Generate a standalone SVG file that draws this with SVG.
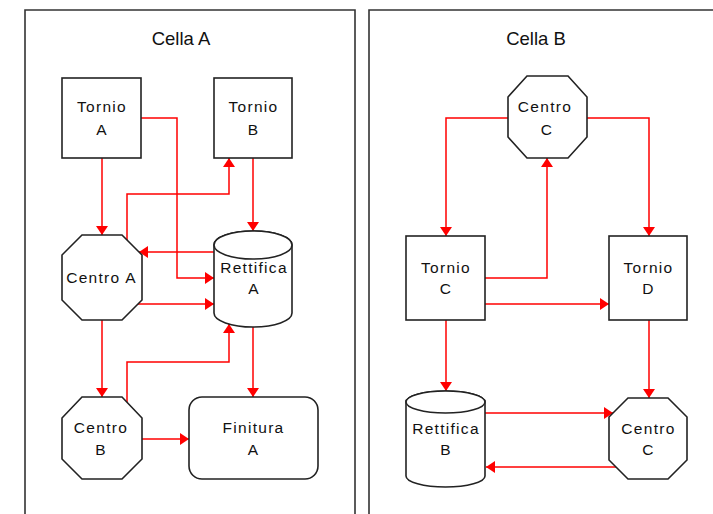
<svg xmlns="http://www.w3.org/2000/svg" width="713" height="514" viewBox="0 0 713 514">
  <defs>
    <style>
      .frame { fill: none; stroke: #333; stroke-width: 1.6; }
      .title { font-family: "Liberation Sans", Arial, sans-serif; font-size: 18.5px; fill: #111; text-anchor: middle; }
      .shape { fill: #fff; stroke: #222; stroke-width: 1.6; }
      .lbl { font-family: "Liberation Sans", Arial, sans-serif; font-size: 15.5px; letter-spacing: 1.3px; fill: #111; text-anchor: middle; }
      .edge { fill: none; stroke: #ff0000; stroke-width: 1.5; marker-end: url(#arrow); }
    </style>
    <marker id="arrow" markerUnits="userSpaceOnUse" markerWidth="10" markerHeight="12" refX="9" refY="6" orient="auto">
      <path d="M0,0 L9,6 L0,12 z" fill="#ff0000"/>
    </marker>
  </defs>

  <rect width="713" height="514" fill="#fff"/>

  <!-- cell frames (open at the bottom) -->
  <g id="cella-a">
    <path class="frame" d="M25,514 V10 H355 V514"/>
    <text class="title" x="181" y="45">Cella A</text>
  </g>
  <g id="cella-b">
    <path class="frame" d="M369,514 V10 H713"/>
    <text class="title" x="536" y="45">Cella B</text>
  </g>

  <!-- connectors -->
  <g id="connectors">
    <path class="edge" d="M102,158 V235"/>
    <path class="edge" d="M141,118 H177 V278 H214"/>
    <path class="edge" d="M127,240 V194 H229 V158"/>
    <path class="edge" d="M253,158 V231"/>
    <path class="edge" d="M214,252 H139"/>
    <path class="edge" d="M138,304 H214"/>
    <path class="edge" d="M102,320 V397"/>
    <path class="edge" d="M127,402 V362 H229 V324"/>
    <path class="edge" d="M253,327 V397"/>
    <path class="edge" d="M142,439 H189"/>

    <path class="edge" d="M508,118 H446 V236"/>
    <path class="edge" d="M587,118 H649 V236"/>
    <path class="edge" d="M485,278 H547 V158"/>
    <path class="edge" d="M485,304 H609"/>
    <path class="edge" d="M446,320 V391"/>
    <path class="edge" d="M649,320 V398"/>
    <path class="edge" d="M485,413 H613"/>
    <path class="edge" d="M616,467 H486"/>
  </g>

  <!-- Cella A nodes -->
  <g id="tornio-a">
    <rect class="shape" x="62" y="78" width="79" height="80"/>
    <text class="lbl" x="102" y="111.5">Tornio</text>
    <text class="lbl" x="102" y="135">A</text>
  </g>
  <g id="tornio-b">
    <rect class="shape" x="214" y="78" width="78" height="80"/>
    <text class="lbl" x="253.5" y="111.5">Tornio</text>
    <text class="lbl" x="253.5" y="135">B</text>
  </g>
  <g id="centro-a">
    <polygon class="shape" points="82,235 122,235 142,255 142,300 122,320 82,320 62,300 62,255"/>
    <text class="lbl" x="101.5" y="283">Centro A</text>
  </g>
  <g id="rettifica-a">
    <path class="shape" d="M214,245 V313 A39,14 0 0,0 292,313 V245 A39,14 0 0,0 214,245 z"/>
    <ellipse class="shape" cx="253" cy="245" rx="39" ry="14"/>
    <text class="lbl" x="254" y="273">Rettifica</text>
    <text class="lbl" x="254" y="294">A</text>
  </g>
  <g id="centro-b">
    <polygon class="shape" points="82,397 122,397 142,418 142,459 122,479 82,479 62,459 62,418"/>
    <text class="lbl" x="101" y="433">Centro</text>
    <text class="lbl" x="101" y="455">B</text>
  </g>
  <g id="finitura-a">
    <rect class="shape" x="189" y="397" width="129" height="82" rx="13" ry="13"/>
    <text class="lbl" x="253.5" y="433">Finitura</text>
    <text class="lbl" x="253.5" y="455">A</text>
  </g>

  <!-- Cella B nodes -->
  <g id="centro-c-top">
    <polygon class="shape" points="527,76 568,76 587,97 587,137 568,158 527,158 508,137 508,97"/>
    <text class="lbl" x="545" y="111.5">Centro</text>
    <text class="lbl" x="547" y="135">C</text>
  </g>
  <g id="tornio-c">
    <rect class="shape" x="406" y="236" width="79" height="84"/>
    <text class="lbl" x="446" y="273">Tornio</text>
    <text class="lbl" x="446" y="294">C</text>
  </g>
  <g id="tornio-d">
    <rect class="shape" x="609" y="236" width="78" height="84"/>
    <text class="lbl" x="648.5" y="273">Tornio</text>
    <text class="lbl" x="648.5" y="294">D</text>
  </g>
  <g id="rettifica-b">
    <path class="shape" d="M406,402 V476 A39.5,11 0 0,0 485,476 V402 A39.5,11 0 0,0 406,402 z"/>
    <ellipse class="shape" cx="445.5" cy="402" rx="39.5" ry="11"/>
    <text class="lbl" x="446" y="433.5">Rettifica</text>
    <text class="lbl" x="446" y="455">B</text>
  </g>
  <g id="centro-c-bottom">
    <polygon class="shape" points="628,398 668,398 687,417 687,460 668,479 628,479 609,460 609,417"/>
    <text class="lbl" x="648.5" y="433.5">Centro</text>
    <text class="lbl" x="648.5" y="455">C</text>
  </g>
</svg>
